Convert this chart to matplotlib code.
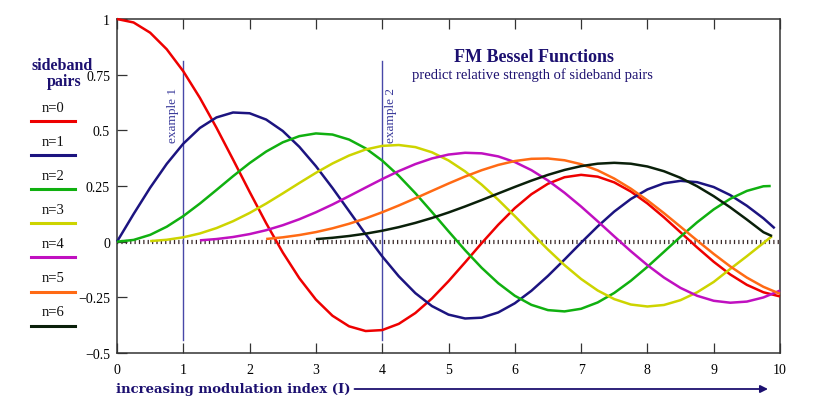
import numpy as np
import matplotlib.pyplot as plt
from matplotlib.lines import Line2D

plt.rcParams['font.family'] = ['Liberation Serif', 'DejaVu Serif']

W, H = 814, 410

# sampling grid of modulation index (step 0.25)
mod_index = np.arange(0, 10.25, 0.25)

# curve values, one list per sideband pair
n0 = [1.0, 0.9844, 0.9385, 0.8642, 0.7652, 0.6459, 0.5118, 0.3690, 0.2239, 0.0828,
      -0.0484, -0.1641, -0.2601, -0.3327, -0.3801, -0.4013, -0.3971, -0.3691, -0.3205, -0.2551,
      -0.1776, -0.0931, -0.0068, 0.0759, 0.1506, 0.2130, 0.2601, 0.2894, 0.3001, 0.2919,
      0.2663, 0.2252, 0.1717, 0.1092, 0.0419, -0.0259, -0.0903, -0.1474, -0.1939, -0.2273,
      -0.2459]
n1 = [0.0, 0.1240, 0.2423, 0.3493, 0.4401, 0.5106, 0.5579, 0.5801, 0.5767, 0.5483,
      0.4971, 0.4260, 0.3391, 0.2411, 0.1374, 0.0333, -0.0660, -0.1555, -0.2311, -0.2892,
      -0.3276, -0.3450, -0.3414, -0.3179, -0.2767, -0.2207, -0.1538, -0.0803, -0.0047, 0.0685,
      0.1352, 0.1915, 0.2346, 0.2621, 0.2731, 0.2672, 0.2453, 0.2091, 0.1613, 0.1049]
n2 = [0.0, 0.0078, 0.0306, 0.0671, 0.1149, 0.1711, 0.2321, 0.2940, 0.3528, 0.4047,
      0.4461, 0.4739, 0.4861, 0.4811, 0.4586, 0.4191, 0.3641, 0.2959, 0.2178, 0.1333,
      0.0466, -0.0383, -0.1173, -0.1865, -0.2429, -0.2837, -0.3074, -0.3132, -0.3014, -0.2730,
      -0.2302, -0.1757, -0.1130, -0.0456, 0.0224, 0.0870, 0.1448, 0.1926, 0.2279, 0.2488]
n3 = [0.0026, 0.0085, 0.0196, 0.0369, 0.0610, 0.0919, 0.1289, 0.1711, 0.2167, 0.2635,
      0.3091, 0.3511, 0.3868, 0.4139, 0.4302, 0.4341, 0.4247, 0.4014, 0.3648, 0.3157,
      0.2561, 0.1882, 0.1148, 0.0391, -0.0354, -0.1053, -0.1676, -0.2192, -0.2580, -0.2823,
      -0.2911, -0.2843, -0.2626, -0.2274, -0.1809, -0.1224, -0.0653, -0.0061]
n4 = [0.0059, 0.0118, 0.0209, 0.0340, 0.0515, 0.0738, 0.1007, 0.1320, 0.1669, 0.2044,
      0.2430, 0.2811, 0.3169, 0.3484, 0.3737, 0.3912, 0.3992, 0.3967, 0.3829, 0.3576,
      0.3213, 0.2748, 0.2196, 0.1578, 0.0916, 0.0238, -0.0428, -0.1054, -0.1612, -0.2078,
      -0.2430, -0.2655, -0.2742, -0.2691, -0.2505, -0.2196]
n5 = [0.0121, 0.0195, 0.0297, 0.0430, 0.0599, 0.0804, 0.1046, 0.1321, 0.1624, 0.1947,
      0.2280, 0.2611, 0.2926, 0.3209, 0.3446, 0.3621, 0.3721, 0.3735, 0.3656, 0.3479,
      0.3203, 0.2834, 0.2381, 0.1858, 0.1280, 0.0670, 0.0052, -0.0550, -0.1113, -0.1613,
      -0.2028, -0.2341]
n6 = [0.0114, 0.0174, 0.0254, 0.0359, 0.0491, 0.0652, 0.0843, 0.1063, 0.1310, 0.1581,
      0.1868, 0.2164, 0.2458, 0.2741, 0.3000, 0.3221, 0.3392, 0.3502, 0.3541, 0.3501,
      0.3376, 0.3163, 0.2866, 0.2489, 0.2043, 0.1539, 0.0993, 0.0425]

series = [n0, n1, n2, n3, n4, n5, n6]
starts = [0, 0, 0, 0.5, 1.25, 2.25, 3.0]
# last drawn point where a curve stops short of 10
tails = [None, (9.92, 0.06), (9.86, 0.25), (9.88, 0.025), None, None, (9.88, 0.025)]
labels = ['n=0', 'n=1', 'n=2', 'n=3', 'n=4', 'n=5', 'n=6']
colors = ['#ee0000', '#1c1480', '#10b010', '#cdd400', '#c010c0', '#ff6a14', '#0a200a']

y_ticks = [1, 0.75, 0.5, 0.25, 0, -0.25, -0.5]
y_ticklabels = ['1', '0.75', '0.5', '0.25', '0', '\u22120.25', '\u22120.5']
x_ticks = list(range(0, 11))

examples = [1, 4]
example_labels = ['example 1', 'example 2']

navy = '#1c1070'

fig = plt.figure(figsize=(W / 100, H / 100), dpi=100)
ax = fig.add_axes([117 / W, 1 - 354 / H, 663 / W, 334 / H])

for vals, start, tail, col in zip(series, starts, tails, colors):
    i0 = int(round(start / 0.25))
    x = list(mod_index[i0:i0 + len(vals)])
    y = list(vals)
    if tail:
        x.append(tail[0])
        y.append(tail[1])
    ax.plot(x, y, color=col, lw=1.8, solid_joinstyle='round', solid_capstyle='butt',
            clip_on=False, zorder=3)

# dotted zero line
ax.plot([0, 10], [0, 0], ls=(0, (0.3, 0.75)), lw=3, color='#3a2a2a', zorder=2)

# example markers
for xv, lab, dx in zip(examples, example_labels, [-0.15, 0.13]):
    ax.plot([xv, xv], [0.81, -0.44], color='#4848a8', lw=1.0, zorder=2)
    ax.text(xv + dx, 0.57, lab, rotation=90, ha='center', va='center',
            fontsize=9.5, color='#3a3a9a')

ax.set_xlim(0, 10)
ax.set_ylim(-0.5, 1)
ax.set_xticks(x_ticks)
ax.set_xticklabels([str(v) for v in x_ticks])
ax.set_yticks(y_ticks)
ax.set_yticklabels(y_ticklabels)
ax.tick_params(direction='in', length=7, width=0.9, color='#333333', labelsize=10,
               top=True, right=False)
ax.tick_params(axis='y', pad=5)
ax.tick_params(axis='x', pad=7)
for s in ax.spines.values():
    s.set_linewidth(1.1)
    s.set_color('#333333')

# titles
fig.text(534 / W, 1 - 57 / H, 'FM Bessel Functions', ha='center', va='center',
         fontsize=13, weight='bold', color=navy)
fig.text(532 / W, 1 - 75 / H, 'predict relative strength of sideband pairs',
         ha='center', va='center', fontsize=10.5, color=navy)

# hand-made legend on the left
fig.text(62 / W, 1 - 66 / H, 'sideband', ha='center', va='center', fontsize=11.5,
         weight='bold', color=navy)
fig.text(64 / W, 1 - 82 / H, 'pairs', ha='center', va='center', fontsize=11.5,
         weight='bold', color=navy)
for i, (lab, col) in enumerate(zip(labels, colors)):
    yt = 108 + 34.1 * i
    fig.text(53 / W, 1 - yt / H, lab, ha='center', va='center', fontsize=10.5, color='#111111')
    fig.add_artist(Line2D([31 / W, 75 / W], [1 - (yt + 14) / H] * 2, color=col, lw=2.2,
                          transform=fig.transFigure))

# x axis caption with arrow
xl = fig.text(116 / W, 1 - 390 / H, 'increasing modulation index (I)', ha='left',
              va='center', fontsize=9.5, weight='bold', color=navy, family='DejaVu Serif')
fig.canvas.draw()
bb = xl.get_window_extent()
ax.annotate('', xy=(768 / W, 1 - 390 / H), xycoords='figure fraction',
            xytext=((bb.x1 + 4) / W, 1 - 390 / H), textcoords='figure fraction',
            arrowprops=dict(arrowstyle='-|>', color=navy, lw=1.3, mutation_scale=11,
                            shrinkA=0, shrinkB=0))

fig.savefig('out.png', dpi=100)
